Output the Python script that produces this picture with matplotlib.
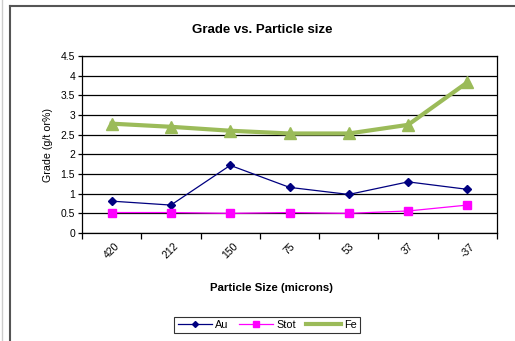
import matplotlib
matplotlib.use("Agg")
import matplotlib.pyplot as plt
from matplotlib.lines import Line2D

plt.rcParams['font.family'] = ['Liberation Sans', 'DejaVu Sans']

categories = ["420", "212", "150", "75", "53", "37", "-37"]
au = [0.81, 0.71, 1.72, 1.16, 0.98, 1.30, 1.11]
stot = [0.52, 0.52, 0.50, 0.52, 0.50, 0.56, 0.71]
fe = [2.78, 2.70, 2.60, 2.53, 2.53, 2.75, 3.83]
y_ticks = [0, 0.5, 1, 1.5, 2, 2.5, 3, 3.5, 4, 4.5]

fig = plt.figure(figsize=(5.15, 3.41), dpi=100)
ax = fig.add_axes([82 / 515, 1 - 233 / 341, (497 - 82) / 515, (233 - 56) / 341])

x = list(range(len(categories)))
ax.plot(x, fe, color="#9BBB59", lw=3, marker="^", ms=9, label="Fe", zorder=3)
ax.plot(x, au, color="#000080", lw=0.9, marker="D", ms=4, label="Au", zorder=4)
ax.plot(x, stot, color="#FF00FF", lw=0.9, marker="s", ms=6, label="Stot", zorder=4)

ax.set_xlim(-0.5, len(categories) - 0.5)
ax.set_ylim(0, 4.5)
ax.set_yticks(y_ticks)
ax.set_yticklabels([f"{v:g}" for v in y_ticks], fontsize=7.5)
ax.yaxis.grid(True, color="black", lw=0.9)
ax.set_axisbelow(True)

# category labels sit between the boundary tick marks
ax.set_xticks([i + 0.5 for i in x[:-1]] + [-0.5, len(categories) - 0.5])
ax.set_xticklabels([])
ax.set_xticks(x, minor=True)
ax.set_xticklabels(categories, minor=True, rotation=45, fontsize=7.5,
                   ha="center", va="top")
ax.tick_params(axis="x", which="minor", length=0, pad=6)
ax.tick_params(axis="x", which="major", length=4, width=0.9, direction="out")
ax.tick_params(axis="y", length=3, width=0.9, direction="out", pad=2)

for side in ax.spines.values():
    side.set_color("black")
    side.set_linewidth(0.9)

fig.text(262 / 515, 1 - 30 / 341, "Grade vs. Particle size", ha="center",
         va="center", fontsize=9.5, fontweight="bold")
fig.text(272 / 515, 1 - 288 / 341, "Particle Size (microns)", ha="center",
         va="center", fontsize=8.2, fontweight="bold")
fig.text(48 / 515, 1 - 145 / 341, "Grade (g/t or%)", ha="center",
         va="center", fontsize=7.7, rotation=90)

handles = [
    Line2D([], [], color="#000080", lw=0.9, marker="D", ms=3),
    Line2D([], [], color="#FF00FF", lw=0.9, marker="s", ms=4),
    Line2D([], [], color="#9BBB59", lw=3),
]
leg = fig.legend(handles, ["Au", "Stot", "Fe"], loc="center",
                 bbox_to_anchor=(267 / 515, 1 - 325 / 341), ncol=3,
                 fontsize=7.8, frameon=True, fancybox=False, handlelength=3.2,
                 columnspacing=0.9, handletextpad=0.3, borderpad=0.3)
leg.get_frame().set_edgecolor("black")
leg.get_frame().set_linewidth(0.8)

# outer chart frame
fig.add_artist(Line2D([9.5 / 515, 9.5 / 515], [0, 1 - 5.5 / 341],
                      transform=fig.transFigure, color="#555555", lw=1.5))
fig.add_artist(Line2D([9.5 / 515, 1], [1 - 5.5 / 341, 1 - 5.5 / 341],
                      transform=fig.transFigure, color="#555555", lw=1.5))
fig.add_artist(Line2D([1.5 / 515, 1.5 / 515], [0, 1],
                      transform=fig.transFigure, color="#CCCCCC", lw=1))

fig.savefig("out.png", dpi=100)
